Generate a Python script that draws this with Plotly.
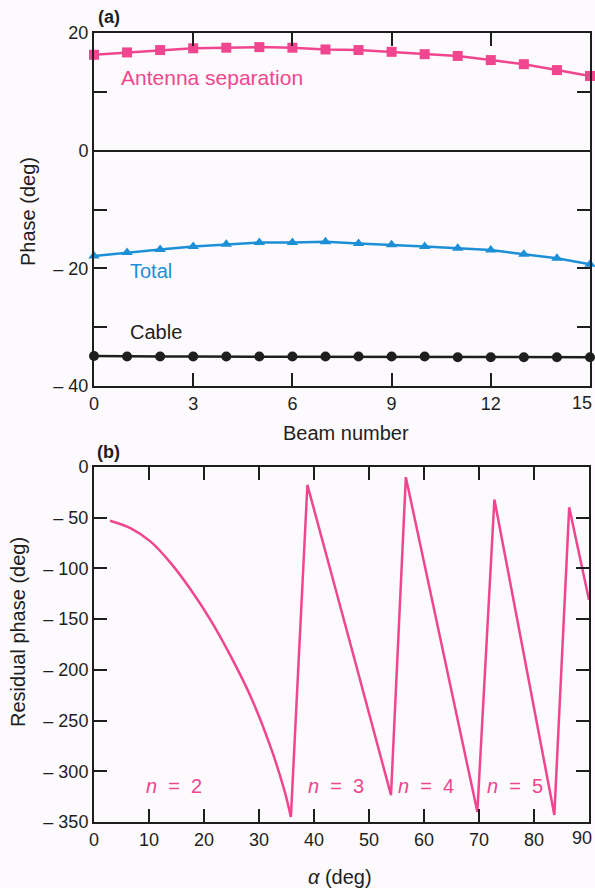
import plotly.graph_objects as go

# ---------------- data ----------------
beams = list(range(16))
antenna_sep = [16.3, 16.7, 17.1, 17.4, 17.5, 17.6, 17.5, 17.2, 17.1, 16.8,
               16.4, 16.1, 15.4, 14.7, 13.7, 12.7]
total = [-17.9, -17.3, -16.8, -16.3, -15.9, -15.6, -15.6, -15.5, -15.8, -16.0,
         -16.3, -16.6, -16.9, -17.6, -18.3, -19.3]
cable = [-34.9, -35.0, -35.0, -35.0, -35.0, -35.0, -35.0, -35.0, -35.0, -35.0,
         -35.0, -35.1, -35.1, -35.1, -35.1, -35.1]

# n = 2 branch (smooth curve)
alpha_n2 = [2.9, 6.7, 10.3, 14.0, 17.6, 21.2, 24.9, 28.5, 32.1, 34.6, 35.8]
resid_n2 = [-53, -60.5, -73.6, -95, -121, -151, -187, -226.5, -276, -318.5, -345]
# n = 3, 4, 5 branches (saw-tooth)
alpha_saw = [35.8, 38.8, 46.5, 54.0, 56.7, 63.3, 69.7, 72.8, 78.3, 83.7, 86.4, 90.0]
resid_saw = [-345, -17.7, -172, -323.5, -10, -177, -340, -32, -189, -343, -39.7, -131]

top_yticks = [20, 10, 0, -10, -20, -30, -40]
top_ytext = ["20", "", "0", "", "\u2013 20", "", "\u2013 40"]
top_xticks = [0, 3, 6, 9, 12, 15]
bot_yticks = [0, -50, -100, -150, -200, -250, -300, -350]
bot_ytext = ["0", "\u2013 50", "\u2013 100", "\u2013 150", "\u2013 200", "\u2013 250", "\u2013 300", "\u2013 350"]
bot_xticks = [0, 10, 20, 30, 40, 50, 60, 70, 80, 90]

PINK = "#f0468f"
BLUE = "#1c8fd6"
INK = "#1e1e1e"
BG = "#fcfafd"
W, H = 595, 888

def px(x):
    return x / W

def py(y):
    return 1 - y / H

fig = go.Figure()
fig.add_trace(go.Scatter(x=beams, y=antenna_sep, mode="lines+markers",
                         line=dict(color=PINK, width=2.5),
                         marker=dict(symbol="square", size=10, color=PINK),
                         cliponaxis=False, xaxis="x", yaxis="y"))
fig.add_trace(go.Scatter(x=beams, y=total, mode="lines+markers",
                         line=dict(color=BLUE, width=2.5),
                         marker=dict(symbol="triangle-up", size=10, color=BLUE),
                         cliponaxis=False, xaxis="x", yaxis="y"))
fig.add_trace(go.Scatter(x=beams, y=cable, mode="lines+markers",
                         line=dict(color=INK, width=2.5),
                         marker=dict(symbol="circle", size=10, color=INK),
                         cliponaxis=False, xaxis="x", yaxis="y"))
fig.add_trace(go.Scatter(x=alpha_n2, y=resid_n2, mode="lines",
                         line=dict(color=PINK, width=2.5, shape="spline"),
                         cliponaxis=False, xaxis="x2", yaxis="y2"))
fig.add_trace(go.Scatter(x=alpha_saw, y=resid_saw, mode="lines",
                         line=dict(color=PINK, width=2.5),
                         cliponaxis=False, xaxis="x2", yaxis="y2"))

axis_common = dict(showgrid=False, showline=True, linecolor=INK, linewidth=2,
                   mirror="allticks", ticks="inside", ticklen=13, tickwidth=2,
                   tickcolor=INK, automargin=False,
                   tickfont=dict(size=18, color=INK,
                                 family="Liberation Sans, Arial, sans-serif"))

fig.update_layout(
    width=W, height=H,
    margin=dict(l=0, r=0, t=0, b=0, autoexpand=False),
    paper_bgcolor=BG, plot_bgcolor=BG,
    showlegend=False,
    font=dict(family="Liberation Sans, Arial, sans-serif", color=INK),
    xaxis=dict(domain=[px(94), px(590)], range=[0, 15], tickvals=top_xticks,
               anchor="y", zeroline=False, **axis_common),
    yaxis=dict(domain=[py(386), py(33)], range=[-40, 20], tickvals=top_yticks,
               ticktext=top_ytext, anchor="x", zeroline=True, zerolinecolor=INK,
               zerolinewidth=2, **axis_common),
    xaxis2=dict(domain=[px(94), px(589)], range=[0, 90], tickvals=bot_xticks,
                anchor="y2", zeroline=False, **axis_common),
    yaxis2=dict(domain=[py(822), py(467)], range=[-350, 0], tickvals=bot_yticks,
                ticktext=bot_ytext, anchor="x2", zeroline=False, **axis_common),
)

def ann(text, x, y, size=17, color=INK, angle=0, xanchor="center"):
    fig.add_annotation(text=text, x=px(x), y=py(y), xref="paper", yref="paper",
                       showarrow=False, font=dict(size=size, color=color),
                       textangle=angle, xanchor=xanchor, yanchor="middle")

# end tick labels that sit on the page edge (kept just inside the page)
ann(str(top_xticks[-1]), 594, 403, size=18, xanchor="right")
ann(str(bot_xticks[-1]), 594, 838, size=18, xanchor="right")

ann("<b>(a)</b>", 96, 17, size=18, xanchor="left")
ann("<b>(b)</b>", 95, 452, size=18, xanchor="left")
ann("Antenna separation", 119, 78, size=21, color=PINK, xanchor="left")
ann("Total", 128, 271, size=20, color=BLUE, xanchor="left")
ann("Cable", 128, 332, size=20, color=INK, xanchor="left")
ann("Beam number", 346, 433, size=20)
ann("Phase (deg)", 28, 212, size=20, angle=-90)
ann("Residual phase (deg)", 18, 632, size=20, angle=-90)
ann("<i>\u03b1</i> (deg)", 340, 877, size=20)
ann("<i>n</i>  =  2", 144, 786, size=20, color=PINK, xanchor="left")
ann("<i>n</i>  =  3", 306, 786, size=20, color=PINK, xanchor="left")
ann("<i>n</i>  =  4", 396, 786, size=20, color=PINK, xanchor="left")
ann("<i>n</i>  =  5", 485, 786, size=20, color=PINK, xanchor="left")

fig.write_html("out.html")
